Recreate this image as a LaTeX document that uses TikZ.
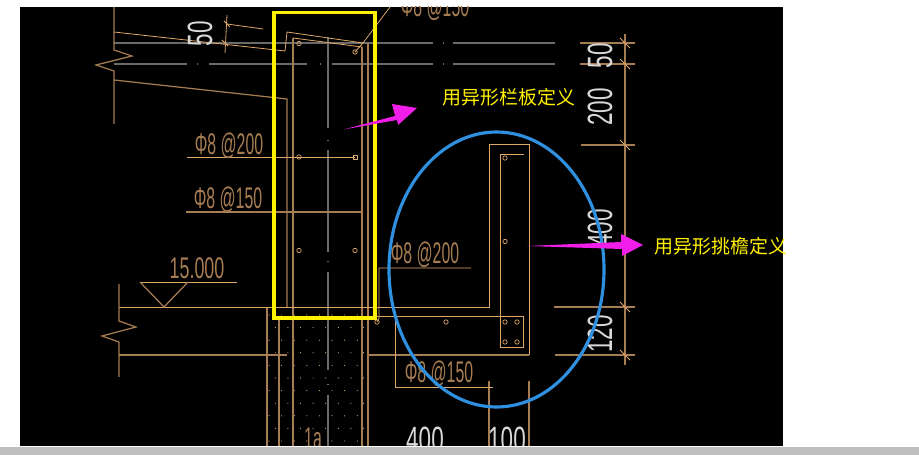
\documentclass[tikz,border=0pt]{standalone}
\usepackage{fontspec}
\setmainfont{Liberation Sans}
\newfontfamily\cjk{Noto Sans CJK SC}
\definecolor{cadline}{HTML}{A67C52}
\definecolor{cadlight}{HTML}{E0A868}
\definecolor{cadgrey}{HTML}{6A6A6A}
\definecolor{cadtext}{HTML}{D8D8D8}
\definecolor{markup}{HTML}{F01EE8}
\definecolor{ringblue}{HTML}{3090E0}
\definecolor{stripgrey}{HTML}{C0C0C0}
\tikzset{
  wall/.style={draw=cadline,line width=0.7pt},
  thin line/.style={draw=cadlight,line width=0.45pt},
  axis/.style={draw=cadgrey,line width=0.7pt},
  bar/.style={draw=cadlight,line width=0.4pt},
  cadlabel/.style={font=\fontsize{17}{17}\selectfont,text=cadline,inner sep=0pt,xscale=0.53},
  dimlabel/.style={font=\fontsize{20}{20}\selectfont,text=cadtext,inner sep=0pt,rotate=90,xscale=0.64},
  widthlabel/.style={font=\fontsize{20}{20}\selectfont,text=cadtext,inner sep=0pt,xscale=0.64},
  note/.style={font=\cjk\fontsize{10.8}{12}\selectfont,text=yellow,inner sep=0pt,anchor=west},
}
\begin{document}
\begin{tikzpicture}[x=0.02cm,y=-0.02cm]
\useasboundingbox (0,0) rectangle (919,455);
\fill[white] (0,0) rectangle (919,455);
\fill[stripgrey] (0,447) rectangle (919,455);
\fill[black] (20,7) rectangle (783,446);

\begin{scope}
\clip (20,7) rectangle (783,446);
% axis lines
\path[axis] (114,43) -- (433,43) (453,43) -- (555,43);
\path[axis] (114,64) -- (187,64) (209,64) -- (307,64) (332,64) -- (433,64) (453,64) -- (555,64);
\path[axis] (328,37) -- (328,128) (328,150) -- (328,252) (328,272) -- (328,370) (328,395) -- (328,446);
\foreach \py in {140,261,384} \fill[cadgrey] (327,\py) rectangle (329,\py+1);
\foreach \px/\py in {197/64,320/64,443/43,443/64} \fill[cadgrey] (\px,\py-1) rectangle (\px+1,\py+1);

% hatch of the wall
\foreach \row in {0,...,10} {
  \pgfmathsetmacro{\rowy}{315+12.6*\row}
  \pgfmathsetmacro{\rowx}{int(mod(\row,2))==0 ? 269 : 275.3}
  \foreach \col in {0,...,7}
    \fill[cadlight] ({\rowx+12.6*\col},\rowy) circle (0.6);
}

% slab and wall
\path[thin line] (114,32) -- (285,51) -- (287,32) -- (363,43);
\path[wall] (114,7) -- (114,50) -- (132,56) -- (96,65) -- (114,71) -- (114,124);
\path[wall] (114,80) -- (287,99) -- (287,307);
\path[thin line] (293,38) -- (362,47);
\path[wall] (293,38) -- (293,446);
\path[wall] (362,47) -- (362,446);
\path[wall] (368,43) -- (368,446);
\path[wall] (267,307) -- (267,446);
\path[wall] (279,316) -- (279,446);
\path[thin line] (119,307) -- (489,307) -- (489,144) -- (529,144) -- (529,355);
\path[wall] (119,355) -- (287,355);
\path[wall] (368,355) -- (529,355);
\path[wall] (119,284) -- (119,321) -- (136,327) -- (102,336) -- (119,342) -- (119,377);
\path[wall] (489,381) -- (489,446);
\path[wall] (529,381) -- (529,446);

% bars
\path[thin line] (524,154) -- (500,154) -- (500,347) -- (523,347) -- (523,316) -- (279,316);
\path[thin line] (187,157) -- (355,157);
\path[wall] (186,212) -- (362,212);
\path[thin line] (377,322) -- (379,318) -- (379,268) -- (471,268);
\path[thin line] (395,316) -- (395,387) -- (493,387);
\path[thin line] (355,52) -- (363,43) -- (390,7);
\foreach \px/\py in {299/43.5,355/52,299/157,299/250.5,355/250.5,505/158,505/241.5,505/322,517/322,505/342,517/342,446/322,377/322}
  \path[bar] (\px,\py) circle (2.2);
\path[bar] (353,155) rectangle (357,159);

% level mark
\path[thin line] (140,282) -- (237,282);
\path[wall] (140,282) -- (164,307) -- (188,282);

% left dimension
\path[thin line] (227,24) -- (263,29);
\path[thin line] (227,15) -- (225,53);
\path[thin line] (224,21) -- (230,27) (222,40) -- (228,46);

% right dimension
\path[wall] (625,34) -- (625,365);
\foreach \py/\pl in {43/580,64/580,145/581,307/554,355/555} {
  \path[wall] (\pl,\py) -- (635,\py);
  \path[thin line] (620,\py-5) -- (630,\py+5);
}

% labels
\node[cadlabel] (bartop) at (435,7.5) {Φ8 @150};
\node[cadlabel] (barmid) at (229,146) {Φ8 @200};
\node[cadlabel] (barlow) at (228,200) {Φ8 @150};
\node[cadlabel] (barright) at (425,255) {Φ8 @200};
\node[cadlabel] (barbottom) at (439,374) {Φ8 @150};
\node[cadlabel,xscale=1.13] (level) at (197,268) {15.000};
\node[cadlabel] (wallmark) at (313,438) {1a};
\node[dimlabel] (dimleft) at (200,34) {50};
\node[dimlabel] (dimtop) at (600,56) {50};
\node[dimlabel] (dimupper) at (600,107) {200};
\node[dimlabel] (dimmid) at (600,228) {400};
\node[dimlabel] (dimlow) at (600,334) {120};
\node[widthlabel] (widthleft) at (425,439) {400};
\node[widthlabel] (widthright) at (507,439) {100};
\end{scope}

% markup
\path[draw=yellow,line width=1.8pt] (274,12.5) rectangle (375,318);
\path[draw=ringblue,line width=1.8pt] (496.5,269.5) ellipse (107.5 and 137.5);
\fill[markup] (343.5,129.5) -- (395,116) -- (392,104) -- (417,108) -- (398,125) -- (397,120) -- cycle;
\fill[markup] (527,246) -- (621,242) -- (621,234) -- (643,245) -- (622,256) -- (622,249) -- cycle;
\node[note] (notepanel) at (442,97) {用异形栏板定义};
\node[note] (noteeave) at (654,246) {用异形挑檐定义};
\end{tikzpicture}
\end{document}
